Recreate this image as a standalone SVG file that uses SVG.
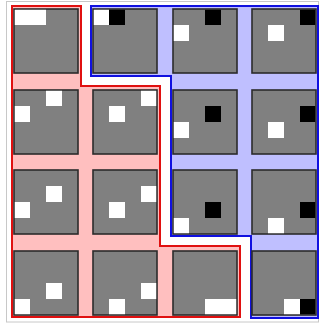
<svg xmlns="http://www.w3.org/2000/svg" width="320" height="327" viewBox="0 0 320 327">
<style>
.tile{fill:#808080;stroke:#2b2b2b;stroke-width:1.6}
.w{fill:#ffffff}
.b{fill:#000000}
</style>
<rect x="0" y="0" width="320" height="327" fill="#ffffff"/>
<rect x="6.5" y="1.5" width="312" height="320.5" fill="none" stroke="#c8c8c8" stroke-width="1"/>
<g id="region-red">
<polygon points="12,6 81,6 81,86 160,86 160,246 240,246 240,317 12,317" fill="#ffbfbf" stroke="#e01010" stroke-width="2"/>
</g>
<g id="region-blue">
<polygon points="91,6 318,6 318,318 251,318 251,236 171,236 171,76 91,76" fill="#bfbfff" stroke="#1010e0" stroke-width="2"/>
</g>
<!-- row 1 -->
<g id="t11"><rect class="tile" x="14" y="9" width="64" height="64"/><rect class="w" x="14.8" y="9.8" width="31.2" height="15.2"/></g>
<g id="t12"><rect class="tile" x="93" y="9" width="64" height="64"/><rect class="w" x="93.8" y="9.8" width="15.2" height="15.2"/><rect class="b" x="109" y="9.8" width="16" height="15.2"/></g>
<g id="t13"><rect class="tile" x="173" y="9" width="64" height="64"/><rect class="b" x="205" y="9.8" width="16" height="15.2"/><rect class="w" x="173.8" y="25" width="15.2" height="16"/></g>
<g id="t14"><rect class="tile" x="252" y="9" width="64" height="64"/><rect class="b" x="300" y="9.8" width="15.2" height="15.2"/><rect class="w" x="268" y="25" width="16" height="16"/></g>
<!-- row 2 -->
<g id="t21"><rect class="tile" x="14" y="90" width="64" height="64"/><rect class="w" x="46" y="90.8" width="16" height="15.2"/><rect class="w" x="14.8" y="106" width="15.2" height="16"/></g>
<g id="t22"><rect class="tile" x="93" y="90" width="64" height="64"/><rect class="w" x="141" y="90.8" width="15.2" height="15.2"/><rect class="w" x="109" y="106" width="16" height="16"/></g>
<g id="t23"><rect class="tile" x="173" y="90" width="64" height="64"/><rect class="b" x="205" y="106" width="16" height="16"/><rect class="w" x="173.8" y="122" width="15.2" height="16"/></g>
<g id="t24"><rect class="tile" x="252" y="90" width="64" height="64"/><rect class="b" x="300" y="106" width="15.2" height="16"/><rect class="w" x="268" y="122" width="16" height="16"/></g>
<!-- row 3 -->
<g id="t31"><rect class="tile" x="14" y="170" width="64" height="64"/><rect class="w" x="46" y="186" width="16" height="16"/><rect class="w" x="14.8" y="202" width="15.2" height="16"/></g>
<g id="t32"><rect class="tile" x="93" y="170" width="64" height="64"/><rect class="w" x="141" y="186" width="15.2" height="16"/><rect class="w" x="109" y="202" width="16" height="16"/></g>
<g id="t33"><rect class="tile" x="173" y="170" width="64" height="64"/><rect class="b" x="205" y="202" width="16" height="16"/><rect class="w" x="173.8" y="218" width="15.2" height="15.2"/></g>
<g id="t34"><rect class="tile" x="252" y="170" width="64" height="64"/><rect class="b" x="300" y="202" width="15.2" height="16"/><rect class="w" x="268" y="218" width="16" height="15.2"/></g>
<!-- row 4 -->
<g id="t41"><rect class="tile" x="14" y="251" width="64" height="64"/><rect class="w" x="46" y="283" width="16" height="16"/><rect class="w" x="14.8" y="299" width="15.2" height="15.2"/></g>
<g id="t42"><rect class="tile" x="93" y="251" width="64" height="64"/><rect class="w" x="141" y="283" width="15.2" height="16"/><rect class="w" x="109" y="299" width="16" height="15.2"/></g>
<g id="t43"><rect class="tile" x="173" y="251" width="64" height="64"/><rect class="w" x="205" y="299" width="31.2" height="15.2"/></g>
<g id="t44"><rect class="tile" x="252" y="251" width="64" height="64"/><rect class="w" x="284" y="299" width="16" height="15.2"/><rect class="b" x="300" y="299" width="15.2" height="15.2"/></g>
</svg>
